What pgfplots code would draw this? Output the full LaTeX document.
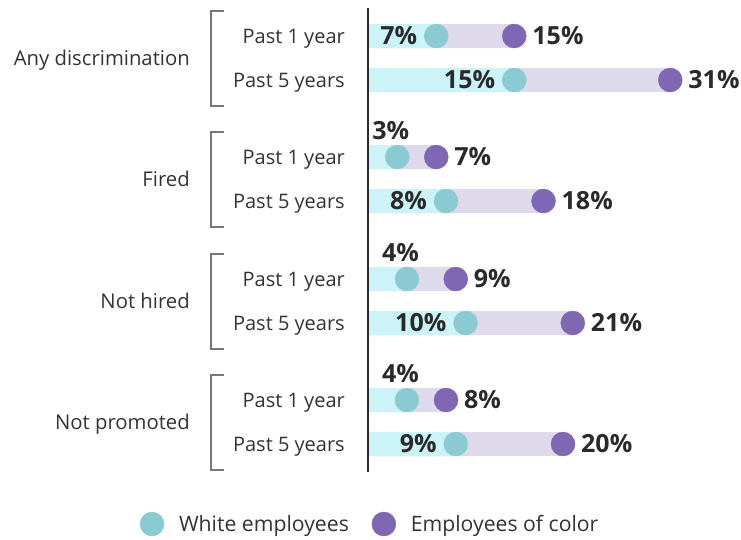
\documentclass[border=0pt]{standalone}
\usepackage{pgfplots}
\pgfplotsset{compat=1.18}
\usepackage{pgfplotstable}
\usepackage{fontspec}
\setmainfont{Open Sans}
\definecolor{barcyan}{HTML}{CCF3F8}
\definecolor{barlav}{HTML}{DEDAEB}
\definecolor{dotcyan}{HTML}{8BCAD3}
\definecolor{dotpurple}{HTML}{7F67B4}
\definecolor{labeltext}{HTML}{2A2A2A}
\definecolor{regtext}{HTML}{333333}
\definecolor{brackgray}{HTML}{777777}

% y = row position (pixels from top), w = White employees, c = Employees of color
\pgfplotstableread{
y   w   c
36  7   15
80  15  31
157 3   7
201 8   18
279 4   9
323 10  21
400 4   8
444 9   20
}\data
% white labels set left of the dot
\pgfplotstableread{
y   w
36  7
80  15
201 8
323 10
444 9
}\whiteleft
% white labels set above the dot
\pgfplotstableread{
y   w
157 3
279 4
400 4
}\whiteabove

\begin{document}
\begin{tikzpicture}
\path[use as bounding box] (0pt,0pt) rectangle (741pt,-540pt);
\begin{axis}[
  at={(368pt,0pt)}, anchor=north west,
  scale only axis, width=373pt, height=540pt,
  xmin=0, xmax=38.2564, ymin=0, ymax=540,
  y dir=reverse, hide axis, clip=false,
  /pgf/number format/assume math mode=true,
  legend columns=2,
  legend style={at={(axis cs:-23.38,524)}, anchor=west, draw=none, fill=none,
    inner sep=0pt, outer sep=0pt,
    font=\fontsize{21.2}{25}\selectfont, text=regtext,
    nodes={inner sep=0pt},
    /tikz/every odd column/.append style={column sep=15pt},
    /tikz/every even column/.append style={column sep=23pt}},
  legend image code/.code={\draw[mark repeat=2,mark phase=2,#1] plot coordinates {(0pt,0pt)(12pt,0pt)(24pt,0pt)};},
]
% bars
\addplot[xbar, bar shift=0pt, bar width=24pt, draw=none, fill=barlav, forget plot] table[x=c,y=y]{\data};
\addplot[xbar, bar shift=0pt, bar width=24pt, draw=none, fill=barcyan, forget plot] table[x=w,y=y]{\data};
% axis line
\draw[line width=1.3pt, color=labeltext] (axis cs:0,8) -- (axis cs:0,472);
% dots
\addplot[only marks, mark=*, mark size=12pt, mark options={draw=none, fill=dotcyan}, color=dotcyan] table[x=w,y=y]{\data};
\addlegendentry{White employees}
\addplot[only marks, mark=*, mark size=12pt, mark options={draw=none, fill=dotpurple}, color=dotpurple] table[x=c,y=y]{\data};
\addlegendentry{Employees of color}
% value labels
\addplot[draw=none, mark=none, forget plot, point meta=x,
  nodes near coords={\pgfmathprintnumber{\pgfplotspointmeta}\%},
  every node near coord/.append style={font=\fontsize{25}{30}\selectfont\bfseries, text=labeltext, inner sep=0pt, anchor=west, xshift=18pt}]
  table[x=c,y=y]{\data};
\addplot[draw=none, mark=none, forget plot, point meta=x,
  nodes near coords={\pgfmathprintnumber{\pgfplotspointmeta}\%},
  every node near coord/.append style={font=\fontsize{25}{30}\selectfont\bfseries, text=labeltext, inner sep=0pt, anchor=east, xshift=-19pt}]
  table[x=w,y=y]{\whiteleft};
\addplot[draw=none, mark=none, forget plot, point meta=x,
  nodes near coords={\pgfmathprintnumber{\pgfplotspointmeta}\%},
  every node near coord/.append style={font=\fontsize{25}{30}\selectfont\bfseries, text=labeltext, inner sep=0pt, anchor=base east, xshift=12pt, yshift=18pt}]
  table[x=w,y=y]{\whiteabove};
% category labels
\foreach \yy/\lab in {58/Any discrimination, 179/Fired, 301/Not hired, 422/Not promoted} {
  \edef\tmp{\noexpand\node[anchor=base east, inner sep=0pt, font=\noexpand\fontsize{20.3}{24}\noexpand\selectfont, text=regtext] at ([xshift=-178pt, yshift=-7pt]axis cs:0,\yy) {\lab};}
  \tmp
  \edef\tmp{\noexpand\draw[brackgray, line width=1.4pt] ([xshift=-144pt]axis cs:0,\yy-47) -- ([xshift=-157pt]axis cs:0,\yy-47) -- ([xshift=-157pt]axis cs:0,\yy+48) -- ([xshift=-144pt]axis cs:0,\yy+48);}
  \tmp
}
\foreach \yy in {36,157,279,400} {
  \edef\tmp{\noexpand\node[anchor=base east, inner sep=0pt, font=\noexpand\fontsize{20}{24}\noexpand\selectfont, text=regtext] at ([xshift=-23pt, yshift=-7pt]axis cs:0,\yy) {Past 1 year};}
  \tmp
}
\foreach \yy in {80,201,323,444} {
  \edef\tmp{\noexpand\node[anchor=base east, inner sep=0pt, font=\noexpand\fontsize{20}{24}\noexpand\selectfont, text=regtext] at ([xshift=-23pt, yshift=-7pt]axis cs:0,\yy) {Past 5 years};}
  \tmp
}
\end{axis}
\end{tikzpicture}
\end{document}
